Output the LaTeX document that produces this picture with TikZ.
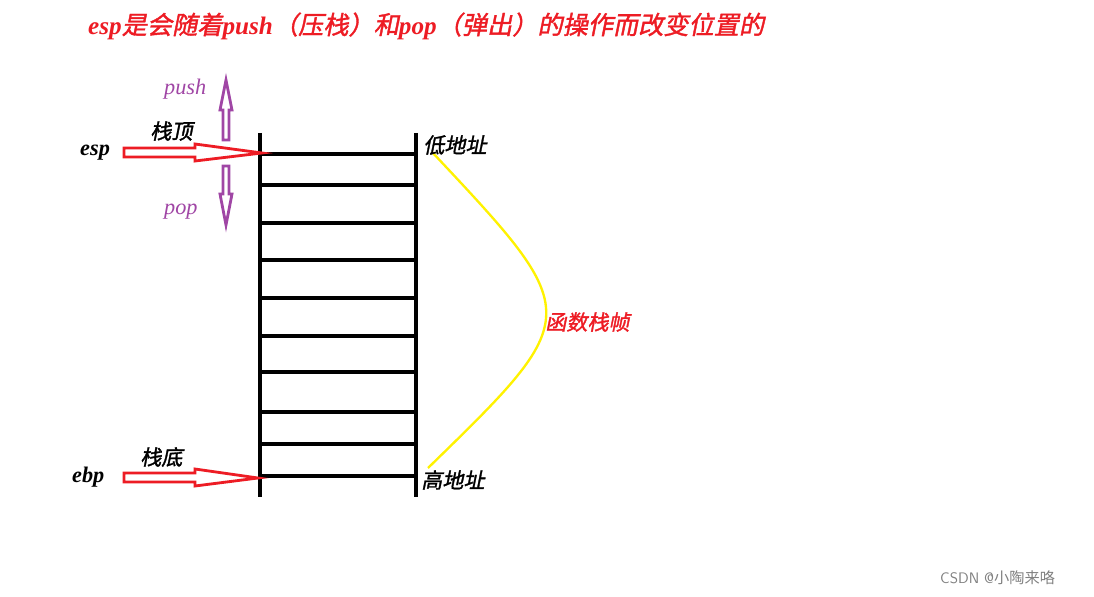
\documentclass[tikz,border=0pt]{standalone}
\usepackage{fontspec}
\setmainfont{Liberation Serif}
\newfontfamily\zh[FakeSlant=0.2,FakeBold=1.5]{Noto Sans CJK SC}
\newfontfamily\zhup{Noto Sans CJK SC}
\definecolor{purp}{RGB}{160,70,165}
\definecolor{ared}{RGB}{237,28,36}
\begin{document}
\begin{tikzpicture}[x=0.03cm,y=-0.03cm,
  stk/.style={line width=2.8pt,black},
  hollowred/.style={draw=ared,line width=2.4pt,fill=white},
  hollowpurp/.style={draw=purp,line width=2.4pt,fill=white},
  lbl/.style={font=\fontsize{19}{19}\selectfont\bfseries\itshape,inner sep=0},
  zl/.style={font=\fontsize{18}{18}\selectfont\zh,inner sep=0}]
\useasboundingbox (0,0) rectangle (1094,597);
% stack
\draw[stk] (260,133) -- (260,497);
\draw[stk] (416,133) -- (416,497);
\foreach \y in {154,185,223,260,298,336,372,412,444,476}
  \draw[stk] (260,\y) -- (416,\y);
% esp arrow
\draw[hollowred] (124,148) -- (195,148) -- (195,144) -- (262,153) -- (195,161) -- (195,157) -- (124,157) -- cycle;
% ebp arrow
\draw[hollowred] (124,473) -- (195,473) -- (195,469) -- (258,478) -- (195,486) -- (195,482) -- (124,482) -- cycle;
% push / pop
\draw[hollowpurp] (223,140) -- (223,110) -- (220,110) -- (226,80) -- (232,110) -- (229,110) -- (229,140) -- cycle;
\draw[hollowpurp] (223,166) -- (223,194) -- (220,194) -- (226,225) -- (232,194) -- (229,194) -- (229,166) -- cycle;
% curve
\coordinate (c1) at (432,152);
\coordinate (c2) at (428,468);
\draw[yellow,line width=2pt] (c1) .. controls (585,315) .. (c2);
% texts
\node[anchor=west,text=ared,inner sep=0,font=\fontsize{21.5}{21.5}\selectfont] (t) at (88,26)
  {{\bfseries\itshape esp}{\zh 是会随着}{\bfseries\itshape push}{\zh （压栈）和}{\bfseries\itshape pop}{\zh （弹出）的操作而改变位置的}};
\node[lbl,anchor=west] (esp) at (80,153) {esp};
\node[lbl,anchor=west] (ebp) at (72,477) {ebp};
\node[zl,anchor=west] (top) at (150,131) {栈顶};
\node[zl,anchor=west] (bot) at (140,457) {栈底};
\node[lbl,anchor=west,text=purp,font=\fontsize{19}{19}\selectfont\itshape] (push) at (164,89) {push};
\node[lbl,anchor=west,text=purp,font=\fontsize{19}{19}\selectfont\itshape] (pop) at (164,212) {pop};
\node[zl,anchor=west] (low) at (423,145) {低地址};
\node[zl,anchor=west] (high) at (421,480) {高地址};
\node[zl,anchor=west,text=ared] (fr) at (545,322) {函数栈帧};
\node[anchor=west,inner sep=0,text=gray,font=\fontsize{13}{13}\selectfont\sffamily] (wm) at (940,578) {CSDN @{\zhup 小陶来咯}};
\end{tikzpicture}
\end{document}
